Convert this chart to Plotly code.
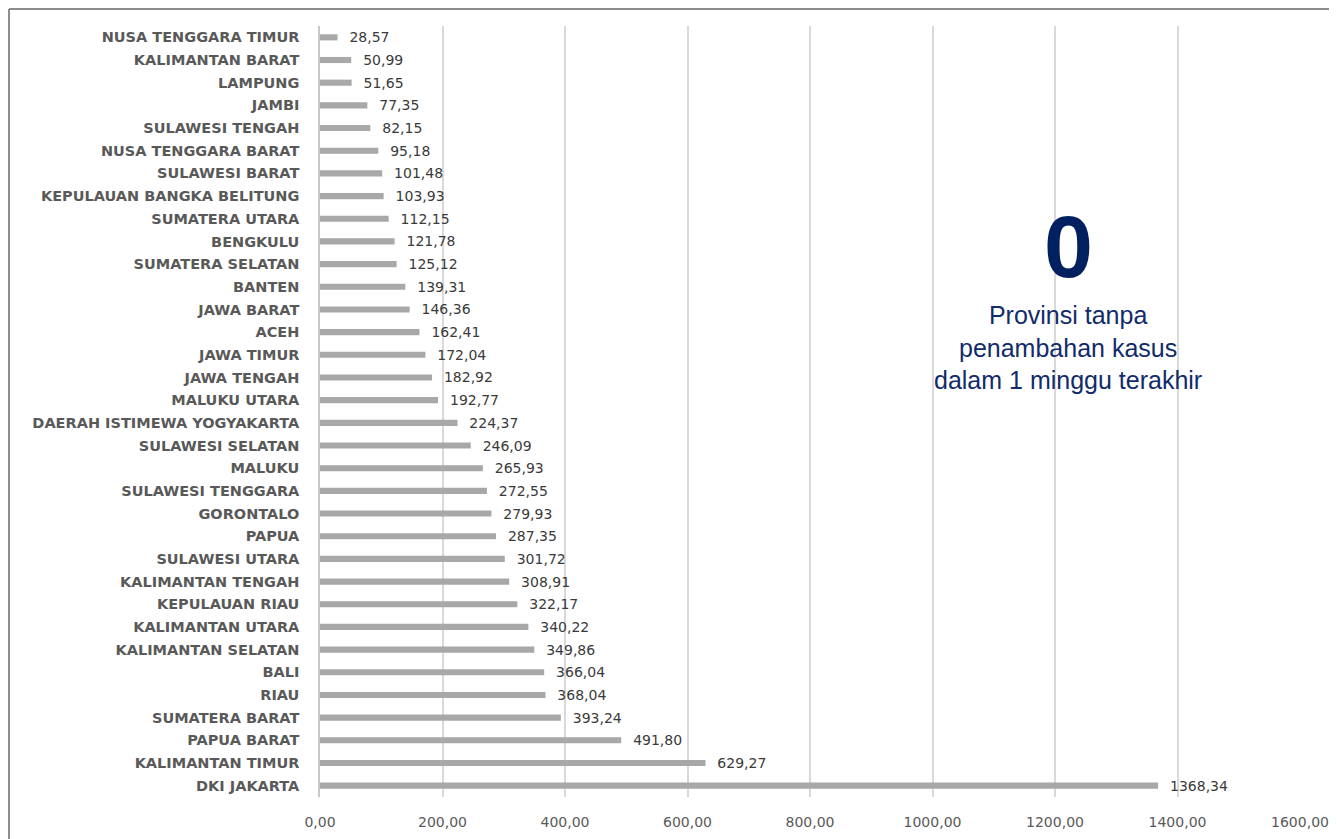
import plotly.graph_objects as go

provinces = [
    "NUSA TENGGARA TIMUR", "KALIMANTAN BARAT", "LAMPUNG", "JAMBI", "SULAWESI TENGAH",
    "NUSA TENGGARA BARAT", "SULAWESI BARAT", "KEPULAUAN BANGKA BELITUNG", "SUMATERA UTARA",
    "BENGKULU", "SUMATERA SELATAN", "BANTEN", "JAWA BARAT", "ACEH", "JAWA TIMUR",
    "JAWA TENGAH", "MALUKU UTARA", "DAERAH ISTIMEWA YOGYAKARTA", "SULAWESI SELATAN",
    "MALUKU", "SULAWESI TENGGARA", "GORONTALO", "PAPUA", "SULAWESI UTARA",
    "KALIMANTAN TENGAH", "KEPULAUAN RIAU", "KALIMANTAN UTARA", "KALIMANTAN SELATAN",
    "BALI", "RIAU", "SUMATERA BARAT", "PAPUA BARAT", "KALIMANTAN TIMUR", "DKI JAKARTA",
]
values = [
    28.57, 50.99, 51.65, 77.35, 82.15, 95.18, 101.48, 103.93, 112.15, 121.78,
    125.12, 139.31, 146.36, 162.41, 172.04, 182.92, 192.77, 224.37, 246.09, 265.93,
    272.55, 279.93, 287.35, 301.72, 308.91, 322.17, 340.22, 349.86, 366.04, 368.04,
    393.24, 491.80, 629.27, 1368.34,
]
tick_vals = [0, 200, 400, 600, 800, 1000, 1200, 1400, 1600]
tick_text = ["0,00", "200,00", "400,00", "600,00", "800,00", "1000,00", "1200,00", "1400,00", "1600,00"]
big_number = "0"
note_lines = ["Provinsi tanpa", "penambahan kasus", "dalam 1 minggu terakhir"]

labels = ["\u00a0\u00a0" + f"{v:.2f}".replace(".", ",") for v in values]

fig = go.Figure(go.Bar(
    x=values, y=provinces, orientation="h",
    marker=dict(color="#a8a8a8", line=dict(width=0)),
    width=0.27,
    text=labels, textposition="outside", cliponaxis=False, constraintext="none",
    textfont=dict(family="DejaVu Sans", size=14, color="#3a3a3a"),
    hoverinfo="skip",
))

# page is drawn with an 8px body margin, so figure coords = page coords - 8
OFF = 8
W, H = 1337 - OFF, 839 - OFF
ml, mr, mt, mb = 312, 37, 18, 42
pw, ph = W - ml - mr, H - mt - mb

def px_x(x):
    return (x - OFF - ml) / pw

def px_y(y):
    return 1 - (y - OFF - mt) / ph

fig.update_layout(
    width=W, height=H,
    margin=dict(l=ml, r=mr, t=mt, b=mb, autoexpand=False),
    paper_bgcolor="white", plot_bgcolor="white",
    showlegend=False,
    xaxis=dict(
        range=[0, 1600], tickvals=tick_vals, ticktext=tick_text,
        showgrid=True, gridcolor="#d9d9d9", gridwidth=1.5,
        zeroline=False, showline=False,
        ticks="outside", ticklen=12, tickcolor="rgba(0,0,0,0)",
        tickfont=dict(family="DejaVu Sans", size=14, color="#595959"),
        automargin=False,
    ),
    yaxis=dict(
        categoryorder="array", categoryarray=provinces, autorange="reversed",
        showgrid=False, zeroline=False,
        showline=True, linecolor="#c8c8c8", linewidth=1.5,
        ticks="outside", ticklen=16, tickcolor="rgba(0,0,0,0)",
        tickfont=dict(family="DejaVu Sans", size=14.5, color="#595959", weight="bold"),
        automargin=False,
    ),
    shapes=[
        dict(type="line", xref="paper", yref="paper",
             x0=px_x(9), x1=px_x(1337), y0=px_y(9), y1=px_y(9),
             line=dict(color="#8c8c8c", width=2)),
        dict(type="line", xref="paper", yref="paper",
             x0=px_x(9), x1=px_x(9), y0=px_y(9), y1=px_y(839),
             line=dict(color="#8c8c8c", width=2)),
    ],
    annotations=[
        dict(text=f"<b>{big_number}</b>", xref="paper", yref="paper",
             x=px_x(1068), y=px_y(246), xanchor="center", yanchor="middle",
             showarrow=False,
             font=dict(family="Liberation Sans", size=88, color="#00205f")),
        dict(text="<br>".join(note_lines), xref="paper", yref="paper",
             x=px_x(1068), y=px_y(347), xanchor="center", yanchor="middle",
             showarrow=False, align="center",
             font=dict(family="Liberation Sans", size=25, color="#112b6b")),
    ],
)

fig.write_html("out.html")
